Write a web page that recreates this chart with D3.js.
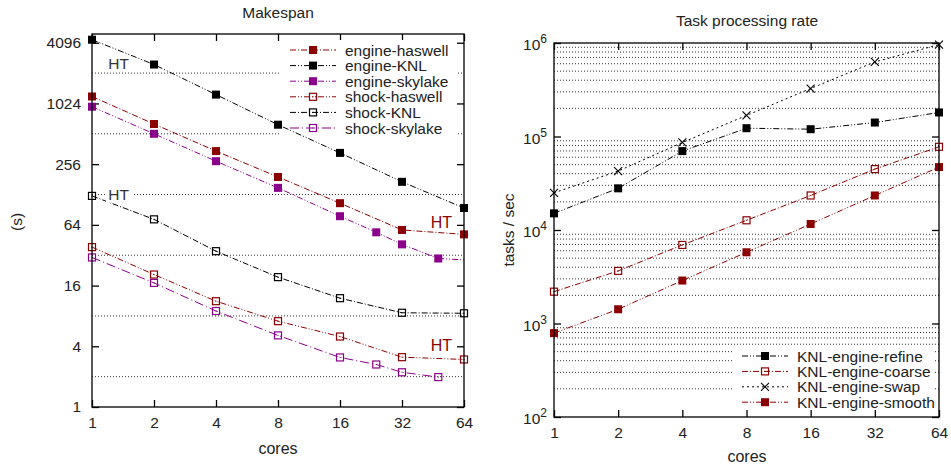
<!DOCTYPE html>
<html>
<head>
<meta charset="utf-8">
<script src="https://cdn.jsdelivr.net/npm/d3@7"></script>
<style>
  body { margin: 0; background: #fff; }
  svg { font-family: "Liberation Sans", Arial, sans-serif; }
</style>
</head>
<body>
<svg id="chart" width="951" height="465"></svg>
<script>
// ---- data: Makespan ----
const CORES = [1, 2, 4, 8, 16, 32, 64];
const CORES_SKYLAKE_ENGINE = [1, 2, 4, 8, 16, 24, 32, 48, 96];
const CORES_SKYLAKE_SHOCK = [1, 2, 4, 8, 16, 24, 32, 48];

const engineHaswell = [1200, 640, 345, 191, 105, 57, 51.5];
const engineKNL = [4390, 2490, 1253, 630, 331, 171, 94];
const engineSkylake = [950, 512, 274, 149, 78, 54, 41, 29.7, 27.5];
const shockHaswell = [38.5, 20.6, 11.2, 7.1, 5.0, 3.12, 2.96];
const shockKNL = [124, 72.6, 35.1, 19.4, 12.0, 8.6, 8.5];
const shockSkylake = [30.4, 17.0, 8.95, 5.13, 3.10, 2.64, 2.21, 1.98];

const makespanTicks = [1, 4, 16, 64, 256, 1024, 4096];
const makespanGrid = [2, 8, 32, 128, 512, 2048];

// ---- data: Task processing rate ----
const rateRefine = [15070, 27900, 69800, 122700, 119700, 141000, 180700];
const rateCoarse = [2190, 3650, 6920, 12700, 23400, 44800, 77600];
const rateSwap = [25000, 42700, 86300, 168000, 326000, 627000, 961000];
const rateSmooth = [789, 1420, 2880, 5780, 11600, 23400, 47100];

const rateExponents = [2, 3, 4, 5, 6];

const RED = '#8b0000';
const PURPLE = '#8b008b';
const DASHDOT = '6,2,1,2';
const DASHDOTDOT = '6,2,1,2,1,2';
const DOTTED = '2,3';
const FS = 15.5;

const svg = d3.select('#chart');
svg.append('rect').attr('width', 951).attr('height', 465).attr('fill', '#fff');

function zip(xs, ys) { return xs.map((x, i) => [x, ys[i]]); }

function marker(g, type, color, x, y) {
	if (type === 'filled') {
		g.append('rect').attr('x', x - 4).attr('y', y - 4).attr('width', 8).attr('height', 8).attr('fill', color);
	} else if (type === 'open') {
		g.append('rect').attr('x', x - 3.5).attr('y', y - 3.5).attr('width', 7).attr('height', 7)
			.attr('fill', 'none').attr('stroke', color).attr('stroke-width', 1.2);
		g.append('rect').attr('x', x - 0.5).attr('y', y - 0.5).attr('width', 1).attr('height', 1).attr('fill', color);
	} else {
		g.append('path').attr('d', `M${x-4},${y-4}L${x+4},${y+4}M${x-4},${y+4}L${x+4},${y-4}`)
			.attr('stroke', color).attr('stroke-width', 1.1);
	}
}

function frame(g, x0, x1, y0, y1) {
	g.append('rect').attr('x', x0).attr('y', y1).attr('width', x1 - x0).attr('height', y0 - y1)
		.attr('fill', 'none').attr('stroke', '#000').attr('stroke-width', 1.3);
}

function drawSeries(g, s, xScale, yScale, clipId) {
	const line = d3.line().x(d => xScale(d[0])).y(d => yScale(d[1]));
	g.append('path').datum(s.pts)
		.attr('clip-path', `url(#${clipId})`)
		.attr('d', line).attr('fill', 'none')
		.attr('stroke', s.color).attr('stroke-width', 1).attr('stroke-dasharray', s.dash);
	const [xd0, xd1] = xScale.domain();
	s.pts.filter(p => p[0] >= xd0 && p[0] <= xd1)
		.forEach(p => marker(g, s.marker, s.color, xScale(p[0]), yScale(p[1])));
}

function legend(g, items, x, y, dy) {
	items.forEach((s, i) => {
		const yy = y + i * dy;
		g.append('line').attr('x1', x).attr('x2', x + 46).attr('y1', yy).attr('y2', yy)
			.attr('stroke', s.color).attr('stroke-width', 1).attr('stroke-dasharray', s.dash);
		marker(g, s.marker, s.color, x + 23, yy);
		g.append('text').attr('x', x + 55).attr('y', yy + 5.5).attr('font-size', FS).attr('fill', '#222').text(s.name);
	});
}

// ============ Left: Makespan ============
{
	const L = {left: 92, right: 464, top: 34, bottom: 407};
	const x = d3.scaleLog().base(2).domain([1, 64]).range([L.left, L.right]);
	const y = d3.scaleLog().base(4).domain([1, 5000]).range([L.bottom, L.top]);
	const g = svg.append('g');

	g.append('clipPath').attr('id', 'clipL').append('rect')
		.attr('x', L.left).attr('y', L.top).attr('width', L.right - L.left).attr('height', L.bottom - L.top);

	// dotted HT lines
	g.selectAll('line.grid').data(makespanGrid).enter().append('line')
		.attr('x1', L.left).attr('x2', L.right)
		.attr('y1', d => y(d)).attr('y2', d => y(d))
		.attr('stroke', '#333').attr('stroke-width', 1).attr('stroke-dasharray', '1,2');

	// axes (inward ticks, mirrored)
	g.append('g').attr('transform', `translate(0,${L.bottom})`)
		.call(d3.axisBottom(x).tickValues(CORES).tickFormat(d3.format('d')).tickSize(-7).tickPadding(10))
		.call(a => a.select('.domain').remove());
	g.append('g').attr('transform', `translate(0,${L.top})`)
		.call(d3.axisTop(x).tickValues(CORES).tickFormat('').tickSize(-7))
		.call(a => a.select('.domain').remove());
	g.append('g').attr('transform', `translate(${L.left},0)`)
		.call(d3.axisLeft(y).tickValues(makespanTicks).tickFormat(d3.format('d')).tickSize(-7).tickPadding(11))
		.call(a => a.select('.domain').remove());
	g.append('g').attr('transform', `translate(${L.right},0)`)
		.call(d3.axisRight(y).tickValues(makespanTicks).tickFormat('').tickSize(-7))
		.call(a => a.select('.domain').remove());
	g.selectAll('.tick text').attr('font-size', FS).attr('fill', '#222')
		.attr('font-family', '"Liberation Sans", Arial, sans-serif');
	g.selectAll('.tick line').attr('stroke-width', 1.3);

	const series = [
		{name: 'engine-haswell', pts: zip(CORES, engineHaswell), color: RED, marker: 'filled', dash: DASHDOT},
		{name: 'engine-KNL', pts: zip(CORES, engineKNL), color: '#000', marker: 'filled', dash: DASHDOTDOT},
		{name: 'engine-skylake', pts: zip(CORES_SKYLAKE_ENGINE, engineSkylake), color: PURPLE, marker: 'filled', dash: DASHDOTDOT},
		{name: 'shock-haswell', pts: zip(CORES, shockHaswell), color: RED, marker: 'open', dash: DASHDOTDOT},
		{name: 'shock-KNL', pts: zip(CORES, shockKNL), color: '#000', marker: 'open', dash: DASHDOT},
		{name: 'shock-skylake', pts: zip(CORES_SKYLAKE_SHOCK, shockSkylake), color: PURPLE, marker: 'open', dash: '9,3,1,3'}
	];

	// legend box hides grid behind it
	g.append('rect').attr('x', 280).attr('y', 40).attr('width', 177).attr('height', 98).attr('fill', '#fff');

	series.forEach(s => drawSeries(g, s, x, y, 'clipL'));

	// HT labels
	g.append('text').attr('x', x(1.2)).attr('y', y(2048) - 4).attr('font-size', FS).attr('fill', '#333').text('HT');
	g.append('rect').attr('x', x(1.17)).attr('y', y(128) - 9).attr('width', 26).attr('height', 17).attr('fill', '#fff');
	g.append('text').attr('x', x(1.2)).attr('y', y(128) + 5).attr('font-size', FS).attr('fill', '#333').text('HT');
	g.append('text').attr('x', x(56)).attr('y', y(64) + 3).attr('text-anchor', 'end').attr('font-size', 16).attr('fill', RED).text('HT');
	g.append('text').attr('x', x(56)).attr('y', y(4) + 5).attr('text-anchor', 'end').attr('font-size', 16).attr('fill', RED).text('HT');

	legend(g, series, 290, 50, 15.6);

	frame(g, L.left, L.right, L.bottom, L.top);

	g.append('text').attr('x', 278).attr('y', 17.5).attr('text-anchor', 'middle').attr('font-size', FS).attr('fill', '#222').text('Makespan');
	g.append('text').attr('x', 278).attr('y', 454).attr('text-anchor', 'middle').attr('font-size', 16).attr('fill', '#222').text('cores');
	g.append('text').attr('transform', 'translate(22,222) rotate(-90)').attr('text-anchor', 'middle')
		.attr('font-size', FS).attr('fill', '#222').text('(s)');
}

// ============ Right: Task processing rate ============
{
	const R = {left: 554, right: 939, top: 43, bottom: 417};
	const x = d3.scaleLog().base(2).domain([1, 64]).range([R.left, R.right]);
	const y = d3.scaleLog().domain([100, 1e6]).range([R.bottom, R.top]);
	const g = svg.append('g');

	g.append('clipPath').attr('id', 'clipR').append('rect')
		.attr('x', R.left).attr('y', R.top).attr('width', R.right - R.left).attr('height', R.bottom - R.top);

	const minor = [];
	rateExponents.slice(0, -1).forEach(e => { for (let m = 2; m <= 9; m++) minor.push(m * Math.pow(10, e)); });
	g.selectAll('line.grid').data(minor).enter().append('line')
		.attr('x1', R.left).attr('x2', R.right)
		.attr('y1', d => y(d)).attr('y2', d => y(d))
		.attr('stroke', '#333').attr('stroke-width', 1).attr('stroke-dasharray', '1,2');

	const majors = rateExponents.map(e => Math.pow(10, e));
	g.append('g').attr('transform', `translate(0,${R.bottom})`)
		.call(d3.axisBottom(x).tickValues(CORES).tickFormat(d3.format('d')).tickSize(-7).tickPadding(10))
		.call(a => a.select('.domain').remove());
	g.append('g').attr('transform', `translate(0,${R.top})`)
		.call(d3.axisTop(x).tickValues(CORES).tickFormat('').tickSize(-7))
		.call(a => a.select('.domain').remove());
	g.append('g').attr('transform', `translate(${R.left},0)`)
		.call(d3.axisLeft(y).tickValues(majors).tickFormat('').tickSize(-7))
		.call(a => a.select('.domain').remove());
	g.append('g').attr('transform', `translate(${R.right},0)`)
		.call(d3.axisRight(y).tickValues(majors).tickFormat('').tickSize(-7))
		.call(a => a.select('.domain').remove());
	g.selectAll('.tick text').attr('font-size', FS).attr('fill', '#222')
		.attr('font-family', '"Liberation Sans", Arial, sans-serif');
	g.selectAll('.tick line').attr('stroke-width', 1.3);

	// 10^n labels
	rateExponents.forEach(e => {
		const t = g.append('text').attr('x', R.left - 7).attr('y', y(Math.pow(10, e)) + 7)
			.attr('text-anchor', 'end').attr('font-size', FS).attr('fill', '#222');
		t.append('tspan').text('10');
		t.append('tspan').attr('dy', -7).attr('font-size', 12).text(e);
	});

	const series = [
		{name: 'KNL-engine-refine', pts: zip(CORES, rateRefine), color: '#000', marker: 'filled', dash: DASHDOTDOT},
		{name: 'KNL-engine-coarse', pts: zip(CORES, rateCoarse), color: RED, marker: 'open', dash: DASHDOT},
		{name: 'KNL-engine-swap', pts: zip(CORES, rateSwap), color: '#000', marker: 'cross', dash: DOTTED},
		{name: 'KNL-engine-smooth', pts: zip(CORES, rateSmooth), color: RED, marker: 'filled', dash: DASHDOTDOT}
	];

	g.append('rect').attr('x', 733).attr('y', 346).attr('width', 200).attr('height', 64).attr('fill', '#fff');

	series.forEach(s => drawSeries(g, s, x, y, 'clipR'));

	legend(g, series, 742, 356, 15.4);

	frame(g, R.left, R.right, R.bottom, R.top);

	g.append('text').attr('x', 747).attr('y', 25.5).attr('text-anchor', 'middle').attr('font-size', FS).attr('fill', '#222').text('Task processing rate');
	g.append('text').attr('x', 747).attr('y', 462).attr('text-anchor', 'middle').attr('font-size', 16).attr('fill', '#222').text('cores');
	g.append('text').attr('transform', 'translate(514,230) rotate(-90)').attr('text-anchor', 'middle')
		.attr('font-size', FS).attr('fill', '#222').text('tasks / sec');
}
</script>
</body>
</html>
